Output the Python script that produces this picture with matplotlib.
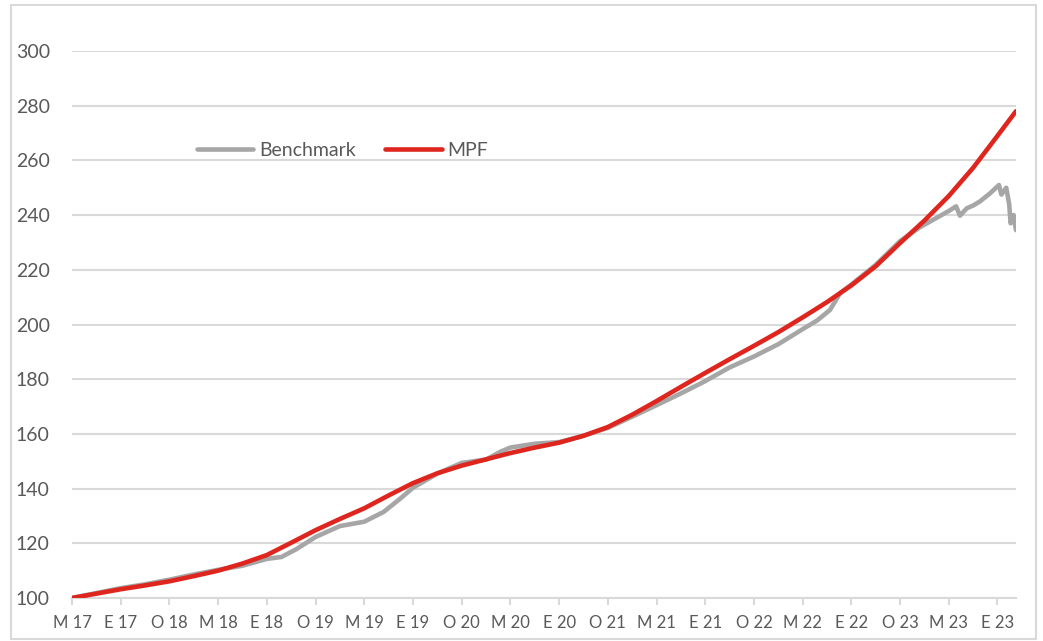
import matplotlib
matplotlib.use("Agg")
import matplotlib.pyplot as plt
from matplotlib.patches import Rectangle

plt.rcParams['font.family'] = ['Lato', 'DejaVu Sans']

tick_labels = ["M 17", "E 17", "O 18", "M 18", "E 18", "O 19", "M 19", "E 19", "O 20", "M 20",
               "E 20", "O 21", "M 21", "E 21", "O 22", "M 22", "E 22", "O 23", "M 23", "E 23"]

mpf_t = [0, 0.5, 1, 1.5, 2, 2.5, 3, 3.5, 4, 4.5, 5, 5.5, 6, 6.5, 7, 7.5, 8, 8.5, 9, 9.5,
         10, 10.5, 11, 11.5, 12, 12.5, 13, 13.5, 14, 14.5, 15, 15.5, 16, 16.5, 17, 17.5, 18,
         18.5, 19, 19.38]
mpf = [100, 101.6, 103.2, 104.6, 106.1, 108.0, 110.0, 112.6, 115.7, 120.2, 124.8, 128.9,
       132.8, 137.5, 142.0, 145.6, 148.4, 150.7, 153.0, 155.0, 156.8, 159.3, 162.5, 167.0,
       172.0, 177.2, 182.3, 187.3, 192.2, 197.2, 202.6, 208.2, 214.3, 221.3, 229.8, 238.0,
       247.0, 257.3, 269.0, 278.0]

bench_t = [0, 0.5, 1, 1.5, 2, 2.5, 3, 3.5, 4, 4.3, 4.6, 5, 5.5, 6, 6.4, 6.75, 7, 7.5, 8, 8.5,
           8.8, 9, 9.5, 10, 10.5, 11, 11.5, 12, 12.5, 13, 13.5, 14, 14.5, 15, 15.3, 15.56,
           15.77, 16, 16.5, 17, 17.4, 17.8, 18, 18.15, 18.23, 18.37, 18.5, 18.64, 18.85,
           19.03, 19.08, 19.18, 19.24, 19.27, 19.33, 19.38]
bench = [100, 101.8, 103.6, 105.0, 106.7, 108.6, 110.3, 111.8, 114.3, 115.0, 117.8, 122.3,
         126.3, 127.9, 131.5, 136.5, 140.3, 145.5, 149.4, 150.6, 153.5, 155.0, 156.4, 157.0,
         159.3, 162.2, 166.3, 170.5, 174.8, 179.3, 184.3, 188.3, 192.8, 198.3, 201.5, 205.3,
         211.5, 214.6, 221.8, 230.5, 235.5, 239.5, 241.5, 243.2, 239.8, 242.5, 243.5, 245.0,
         248.0, 251.0, 247.5, 250.0, 244.0, 237.0, 240.0, 234.5]

GRID = "#D9D9D9"
TXT = "#595959"

fig = plt.figure(figsize=(10.43, 6.41), dpi=100)
ax = fig.add_axes([72 / 1043, 1 - 598 / 641, (1016 - 72) / 1043, (598 - 51) / 641])

ax.plot(bench_t, bench, color="#A6A6A6", lw=3.3, solid_capstyle="round",
        solid_joinstyle="round", label="Benchmark", zorder=3)
ax.plot(mpf_t, mpf, color="#DE261E", lw=3.3, solid_capstyle="round",
        solid_joinstyle="round", label="MPF", zorder=4)

ax.set_xlim(0, 19.38)
ax.set_ylim(100, 300)
ax.set_yticks(range(100, 301, 20))
ax.set_xticks(range(len(tick_labels)))
ax.set_xticklabels(tick_labels, fontsize=12, color=TXT)
ax.tick_params(axis="y", length=0, pad=16, labelsize=14, labelcolor=TXT)
ax.tick_params(axis="x", length=5, width=1.5, color=GRID, pad=7)
ax.yaxis.grid(True, color=GRID, lw=1.5)
ax.set_axisbelow(True)
for s in ["top", "right", "left"]:
    ax.spines[s].set_visible(False)
ax.spines["bottom"].set_color(GRID)
ax.spines["bottom"].set_linewidth(1.5)

leg = ax.legend(loc="center left", bbox_to_anchor=((197 - 72) / 944, (598 - 150) / 547),
                ncol=2, frameon=False, fontsize=14, handlelength=2.9, handletextpad=0.3,
                columnspacing=1.5, borderpad=0, borderaxespad=0)
for t in leg.get_texts():
    t.set_color(TXT)

fig.patches.append(Rectangle((11 / 1043, 2 / 641), (1036 - 11) / 1043, (636 - 2) / 641,
                             transform=fig.transFigure, fill=False, edgecolor=GRID, lw=1.5))

fig.savefig("out.png", dpi=100)
